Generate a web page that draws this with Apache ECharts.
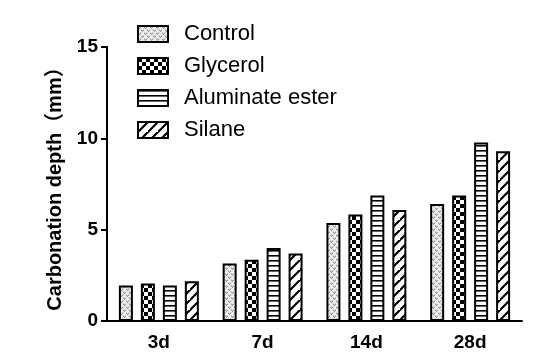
<!DOCTYPE html>
<html><head><meta charset="utf-8">
<script src="https://cdn.jsdelivr.net/npm/echarts@6/dist/echarts.min.js"></script>
<style>html,body{margin:0;padding:0;background:#fff}#c{width:550px;height:356px}</style>
</head><body><div id="c"></div>
<script>
var categories = ['3d', '7d', '14d', '28d'];
var seriesNames = ['Control', 'Glycerol', 'Aluminate ester', 'Silane'];
var controlVals = [1.95, 3.15, 5.37, 6.41];
var glycerolVals = [2.05, 3.35, 5.83, 6.87];
var aluminateVals = [1.95, 3.99, 6.87, 9.77];
var silaneVals = [2.17, 3.70, 6.07, 9.29];
var yTicks = [0, 5, 10, 15];

function mk(w, h, draw) {
  var c = document.createElement('canvas');
  c.width = w; c.height = h;
  var ctx = c.getContext('2d');
  ctx.fillStyle = '#fff'; ctx.fillRect(0, 0, w, h);
  draw(ctx);
  return { image: c, repeat: 'repeat' };
}
var patControl = mk(6, 6, function (ctx) {
  ctx.fillStyle = '#eeeeee'; ctx.fillRect(0, 0, 6, 6);
  ctx.strokeStyle = '#7a7a7a'; ctx.lineWidth = 1;
  ctx.beginPath();
  ctx.moveTo(0, 0.5); ctx.lineTo(1.5, 2.5); ctx.lineTo(3, 0.5);
  ctx.moveTo(3, 3.5); ctx.lineTo(4.5, 5.5); ctx.lineTo(6, 3.5);
  ctx.stroke();
});
var patGlycerol = mk(8, 8, function (ctx) {
  ctx.fillStyle = '#000';
  ctx.fillRect(0, 0, 4, 4); ctx.fillRect(4, 4, 4, 4);
});
var patAluminate = mk(5, 5, function (ctx) {
  ctx.fillStyle = '#000';
  ctx.fillRect(0, 0, 5, 1.6);
});
var patSilane = mk(10, 10, function (ctx) {
  ctx.strokeStyle = '#000'; ctx.lineWidth = 2.2;
  ctx.beginPath();
  ctx.moveTo(-2, 12); ctx.lineTo(12, -2);
  ctx.moveTo(-12, 12); ctx.lineTo(2, -2);
  ctx.moveTo(8, 22); ctx.lineTo(22, 8);
  ctx.stroke();
});
var pats = [patControl, patGlycerol, patAluminate, patSilane];
var vals = [controlVals, glycerolVals, aluminateVals, silaneVals];
var ff = '"Liberation Sans", Arial, "Noto Sans CJK SC", sans-serif';

var chart = echarts.init(document.getElementById('c'), null, { renderer: 'canvas' });
chart.setOption({
  animation: false,
  backgroundColor: '#fff',
  grid: { left: 107, right: 28, top: 47, bottom: 35, containLabel: false },
  legend: {
    orient: 'vertical', left: 132, top: 18, icon: 'rect',
    itemWidth: 30, itemHeight: 16, itemGap: 10,
    textStyle: { fontSize: 22, color: '#000', fontFamily: ff, padding: [0, 0, 0, 11] },
    itemStyle: { borderColor: '#000', borderWidth: 2 },
    data: seriesNames
  },
  xAxis: {
    type: 'category', data: categories,
    axisLine: { lineStyle: { color: '#000', width: 2 } },
    axisTick: { alignWithLabel: true, length: 7, lineStyle: { color: '#000', width: 2 } },
    axisLabel: { color: '#000', fontSize: 19, fontWeight: 'bold', fontFamily: ff, margin: 12 }
  },
  yAxis: {
    type: 'value', min: yTicks[0], max: yTicks[yTicks.length - 1], interval: 5,
    name: 'Carbonation depth（mm）', nameLocation: 'middle', nameGap: 42,
    nameTextStyle: { color: '#000', fontSize: 20, fontWeight: 'bold', fontFamily: ff },
    axisLine: { show: true, lineStyle: { color: '#000', width: 2 } },
    axisTick: { show: true, length: 6, lineStyle: { color: '#000', width: 2 } },
    axisLabel: { color: '#000', fontSize: 19, fontWeight: 'bold', fontFamily: ff, margin: 9 },
    splitLine: { show: false }
  },
  series: seriesNames.map(function (n, i) {
    return {
      name: n, type: 'bar', data: vals[i], barWidth: 14, barGap: '57%',
      itemStyle: { color: pats[i], borderColor: '#000', borderWidth: 2 }
    };
  })
});
</script></body></html>
